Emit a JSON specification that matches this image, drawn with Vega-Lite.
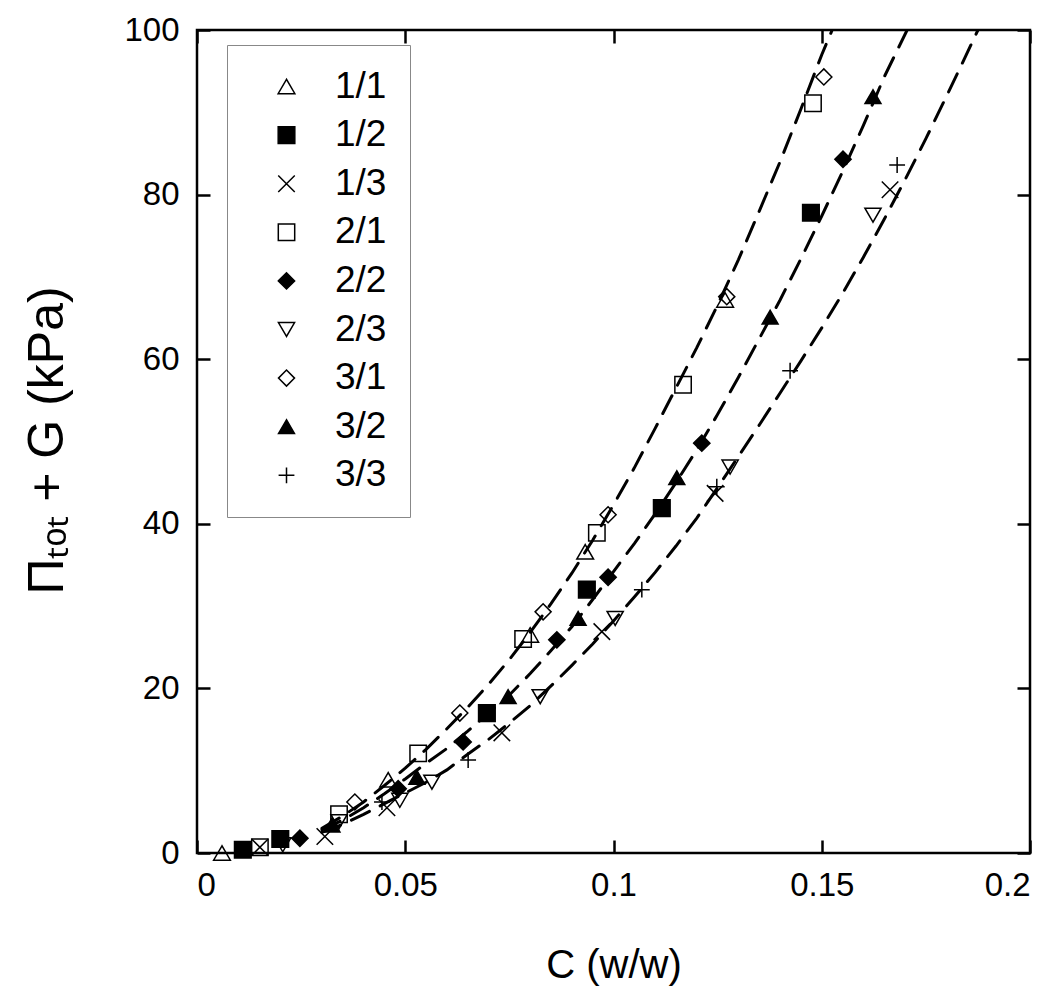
{
  "$schema": "https://vega.github.io/schema/vega-lite/v6.json",
  "width": 833,
  "height": 823,
  "autosize": "none",
  "padding": {"left": 197, "top": 30, "right": 20, "bottom": 152},
  "background": "white",
  "config": {
    "view": {"stroke": "black", "strokeWidth": 2.5},
    "axis": {
      "domain": false, "grid": false, "ticks": true,
      "tickColor": "black", "tickWidth": 2.5, "tickSize": -13,
      "labelFont": "Liberation Sans", "labelFontSize": 33, "labelColor": "black",
      "titleFont": "Liberation Sans", "titleFontWeight": "normal", "titleColor": "black"
    },
    "legend": {
      "orient": "none", "legendX": 30, "legendY": 15,
      "strokeColor": "#888888", "fillColor": "white", "padding": 23,
      "labelFont": "Liberation Sans", "labelFontSize": 37, "labelColor": "black",
      "rowPadding": 10.6, "symbolOffset": 18, "labelOffset": 30,
      "symbolStrokeWidth": 1.5
    }
  },
  "datasets": {
    "pts": [
      {"s": "1/1", "c": 0.006, "p": 0},
      {"s": "1/1", "c": 0.0459, "p": 8.9},
      {"s": "1/1", "c": 0.080, "p": 26.5},
      {"s": "1/1", "c": 0.0932, "p": 36.6},
      {"s": "1/1", "c": 0.1268, "p": 67.2},
      {"s": "1/2", "c": 0.011, "p": 0.4},
      {"s": "1/2", "c": 0.020, "p": 1.7},
      {"s": "1/2", "c": 0.0696, "p": 17.0},
      {"s": "1/2", "c": 0.0936, "p": 32.0},
      {"s": "1/2", "c": 0.1116, "p": 41.9},
      {"s": "1/2", "c": 0.1474, "p": 77.8},
      {"s": "1/3", "c": 0.0151, "p": 0.7},
      {"s": "1/3", "c": 0.0307, "p": 2.0},
      {"s": "1/3", "c": 0.0456, "p": 5.5},
      {"s": "1/3", "c": 0.0732, "p": 14.6},
      {"s": "1/3", "c": 0.0972, "p": 26.9},
      {"s": "1/3", "c": 0.1244, "p": 43.7},
      {"s": "1/3", "c": 0.1664, "p": 80.6},
      {"s": "2/1", "c": 0.0151, "p": 0.7},
      {"s": "2/1", "c": 0.0341, "p": 4.7},
      {"s": "2/1", "c": 0.0531, "p": 12.1},
      {"s": "2/1", "c": 0.0783, "p": 26.0},
      {"s": "2/1", "c": 0.096, "p": 38.9},
      {"s": "2/1", "c": 0.1167, "p": 56.9},
      {"s": "2/1", "c": 0.1479, "p": 91.1},
      {"s": "2/2", "c": 0.0247, "p": 1.8},
      {"s": "2/2", "c": 0.0483, "p": 7.8},
      {"s": "2/2", "c": 0.0639, "p": 13.5},
      {"s": "2/2", "c": 0.0864, "p": 25.9},
      {"s": "2/2", "c": 0.0987, "p": 33.5},
      {"s": "2/2", "c": 0.1212, "p": 49.8},
      {"s": "2/2", "c": 0.1551, "p": 84.3},
      {"s": "2/3", "c": 0.0206, "p": 1.0},
      {"s": "2/3", "c": 0.0341, "p": 3.8},
      {"s": "2/3", "c": 0.0487, "p": 6.4},
      {"s": "2/3", "c": 0.0564, "p": 8.6},
      {"s": "2/3", "c": 0.0824, "p": 19.0},
      {"s": "2/3", "c": 0.1004, "p": 28.5},
      {"s": "2/3", "c": 0.128, "p": 46.9},
      {"s": "2/3", "c": 0.1623, "p": 77.5},
      {"s": "3/1", "c": 0.0379, "p": 6.2},
      {"s": "3/1", "c": 0.0631, "p": 17.0},
      {"s": "3/1", "c": 0.0831, "p": 29.3},
      {"s": "3/1", "c": 0.0987, "p": 41.1},
      {"s": "3/1", "c": 0.1272, "p": 67.6},
      {"s": "3/1", "c": 0.1505, "p": 94.3},
      {"s": "3/2", "c": 0.0324, "p": 3.4},
      {"s": "3/2", "c": 0.0528, "p": 9.2},
      {"s": "3/2", "c": 0.0747, "p": 19.0},
      {"s": "3/2", "c": 0.0915, "p": 28.5},
      {"s": "3/2", "c": 0.1152, "p": 45.6},
      {"s": "3/2", "c": 0.1376, "p": 65.1},
      {"s": "3/2", "c": 0.1623, "p": 91.9},
      {"s": "3/3", "c": 0.0444, "p": 6.2},
      {"s": "3/3", "c": 0.0651, "p": 11.3},
      {"s": "3/3", "c": 0.1068, "p": 32.0},
      {"s": "3/3", "c": 0.1248, "p": 44.5},
      {"s": "3/3", "c": 0.1424, "p": 58.6},
      {"s": "3/3", "c": 0.1681, "p": 83.6}
    ],
    "fit": [
      {"g": "A", "c": 0.030, "p": 3.0},
      {"g": "A", "c": 0.035, "p": 4.5},
      {"g": "A", "c": 0.040, "p": 6.2},
      {"g": "A", "c": 0.045, "p": 8.2},
      {"g": "A", "c": 0.050, "p": 10.3},
      {"g": "A", "c": 0.055, "p": 12.6},
      {"g": "A", "c": 0.060, "p": 15.1},
      {"g": "A", "c": 0.065, "p": 17.7},
      {"g": "A", "c": 0.070, "p": 20.5},
      {"g": "A", "c": 0.075, "p": 23.5},
      {"g": "A", "c": 0.080, "p": 26.8},
      {"g": "A", "c": 0.085, "p": 30.3},
      {"g": "A", "c": 0.090, "p": 34.0},
      {"g": "A", "c": 0.095, "p": 38.0},
      {"g": "A", "c": 0.100, "p": 42.3},
      {"g": "A", "c": 0.105, "p": 46.8},
      {"g": "A", "c": 0.110, "p": 51.6},
      {"g": "A", "c": 0.115, "p": 56.5},
      {"g": "A", "c": 0.120, "p": 61.4},
      {"g": "A", "c": 0.125, "p": 66.6},
      {"g": "A", "c": 0.130, "p": 72.1},
      {"g": "A", "c": 0.135, "p": 78.0},
      {"g": "A", "c": 0.140, "p": 84.0},
      {"g": "A", "c": 0.145, "p": 90.4},
      {"g": "A", "c": 0.150, "p": 97.0},
      {"g": "A", "c": 0.1525, "p": 100},
      {"g": "B", "c": 0.030, "p": 2.8},
      {"g": "B", "c": 0.035, "p": 4.0},
      {"g": "B", "c": 0.040, "p": 5.5},
      {"g": "B", "c": 0.045, "p": 7.2},
      {"g": "B", "c": 0.050, "p": 9.0},
      {"g": "B", "c": 0.055, "p": 10.9},
      {"g": "B", "c": 0.060, "p": 12.7},
      {"g": "B", "c": 0.065, "p": 14.8},
      {"g": "B", "c": 0.070, "p": 17.0},
      {"g": "B", "c": 0.075, "p": 19.2},
      {"g": "B", "c": 0.080, "p": 21.8},
      {"g": "B", "c": 0.085, "p": 24.6},
      {"g": "B", "c": 0.090, "p": 27.5},
      {"g": "B", "c": 0.095, "p": 30.8},
      {"g": "B", "c": 0.100, "p": 34.2},
      {"g": "B", "c": 0.105, "p": 37.6},
      {"g": "B", "c": 0.110, "p": 41.2},
      {"g": "B", "c": 0.115, "p": 45.0},
      {"g": "B", "c": 0.120, "p": 49.0},
      {"g": "B", "c": 0.125, "p": 53.3},
      {"g": "B", "c": 0.130, "p": 57.8},
      {"g": "B", "c": 0.135, "p": 62.5},
      {"g": "B", "c": 0.140, "p": 67.2},
      {"g": "B", "c": 0.145, "p": 72.2},
      {"g": "B", "c": 0.150, "p": 77.4},
      {"g": "B", "c": 0.155, "p": 82.8},
      {"g": "B", "c": 0.160, "p": 88.4},
      {"g": "B", "c": 0.165, "p": 94.3},
      {"g": "B", "c": 0.1705, "p": 100},
      {"g": "C", "c": 0.030, "p": 2.5},
      {"g": "C", "c": 0.035, "p": 3.5},
      {"g": "C", "c": 0.040, "p": 4.7},
      {"g": "C", "c": 0.045, "p": 6.0},
      {"g": "C", "c": 0.050, "p": 7.3},
      {"g": "C", "c": 0.055, "p": 8.6},
      {"g": "C", "c": 0.060, "p": 10.1},
      {"g": "C", "c": 0.065, "p": 12.0},
      {"g": "C", "c": 0.070, "p": 13.8},
      {"g": "C", "c": 0.075, "p": 15.8},
      {"g": "C", "c": 0.080, "p": 17.9},
      {"g": "C", "c": 0.085, "p": 20.3},
      {"g": "C", "c": 0.090, "p": 22.8},
      {"g": "C", "c": 0.095, "p": 25.4},
      {"g": "C", "c": 0.100, "p": 28.2},
      {"g": "C", "c": 0.105, "p": 31.1},
      {"g": "C", "c": 0.110, "p": 34.1},
      {"g": "C", "c": 0.115, "p": 37.3},
      {"g": "C", "c": 0.120, "p": 40.7},
      {"g": "C", "c": 0.125, "p": 44.4},
      {"g": "C", "c": 0.130, "p": 48.2},
      {"g": "C", "c": 0.135, "p": 52.0},
      {"g": "C", "c": 0.140, "p": 55.9},
      {"g": "C", "c": 0.145, "p": 59.8},
      {"g": "C", "c": 0.150, "p": 63.8},
      {"g": "C", "c": 0.155, "p": 68.0},
      {"g": "C", "c": 0.160, "p": 72.4},
      {"g": "C", "c": 0.165, "p": 77.0},
      {"g": "C", "c": 0.170, "p": 81.8},
      {"g": "C", "c": 0.175, "p": 86.8},
      {"g": "C", "c": 0.180, "p": 92.0},
      {"g": "C", "c": 0.185, "p": 97.3},
      {"g": "C", "c": 0.1875, "p": 100}
    ]
  },
  "layer": [
    {
      "data": {"name": "fit"},
      "mark": {"type": "line", "stroke": "black", "strokeWidth": 3, "strokeDash": [20, 12], "strokeCap": "round", "clip": true},
      "encoding": {
        "x": {"field": "c", "type": "quantitative", "scale": {"domain": [0, 0.2], "nice": false, "zero": false},
              "axis": {"orient": "top", "labels": false, "title": null, "values": [0, 0.05, 0.1, 0.15, 0.2]}},
        "y": {"field": "p", "type": "quantitative", "scale": {"domain": [0, 100], "nice": false},
              "axis": {"orient": "right", "labels": false, "title": null, "values": [0, 20, 40, 60, 80, 100]}},
        "detail": {"field": "g"},
        "order": {"field": "c", "type": "quantitative"}
      }
    },
    {
      "data": {"name": "pts"},
      "mark": {"type": "point", "filled": false, "strokeWidth": 1.5, "opacity": 1},
      "encoding": {
        "x": {"field": "c", "type": "quantitative",
              "axis": {"orient": "bottom", "values": [0, 0.05, 0.1, 0.15, 0.2], "format": "~g", "labelPadding": 29,
                       "title": "C (w/w)", "titleFontSize": 40, "titleX": 416.5, "titleY": 112, "titleBaseline": "middle", "titleAlign": "center"}},
        "y": {"field": "p", "type": "quantitative",
              "axis": {"orient": "left", "values": [0, 20, 40, 60, 80, 100], "labelPadding": 31,
                       "title": "Πₜₒₜ + G (kPa)", "titleFontSize": 50, "titleX": -150, "titleY": 410, "titleBaseline": "middle", "titleAlign": "center", "titleAngle": -90}},
        "shape": {"field": "s", "type": "nominal", "title": null,
                  "scale": {"domain": ["1/1", "1/2", "1/3", "2/1", "2/2", "2/3", "3/1", "3/2", "3/3"],
                            "range": ["triangle-up", "square", "M-1,-1L1,1M-1,1L1,-1", "square", "diamond", "triangle-down", "diamond", "triangle-up", "M-1,0L1,0M0,-1L0,1"]}},
        "fill": {"field": "s", "type": "nominal", "title": null,
                 "scale": {"domain": ["1/1", "1/2", "1/3", "2/1", "2/2", "2/3", "3/1", "3/2", "3/3"],
                           "range": ["transparent", "black", "transparent", "transparent", "black", "transparent", "transparent", "black", "transparent"]}},
        "stroke": {"field": "s", "type": "nominal", "title": null,
                   "scale": {"domain": ["1/1", "1/2", "1/3", "2/1", "2/2", "2/3", "3/1", "3/2", "3/3"],
                             "range": ["black", "black", "black", "black", "black", "black", "black", "black", "black"]}},
        "size": {"field": "s", "type": "nominal", "title": null,
                 "scale": {"domain": ["1/1", "1/2", "1/3", "2/1", "2/2", "2/3", "3/1", "3/2", "3/3"],
                           "range": [280, 250, 320, 250, 420, 280, 420, 280, 230]}}
      }
    }
  ],
  "resolve": {"axis": {"x": "independent", "y": "independent"}}
}
